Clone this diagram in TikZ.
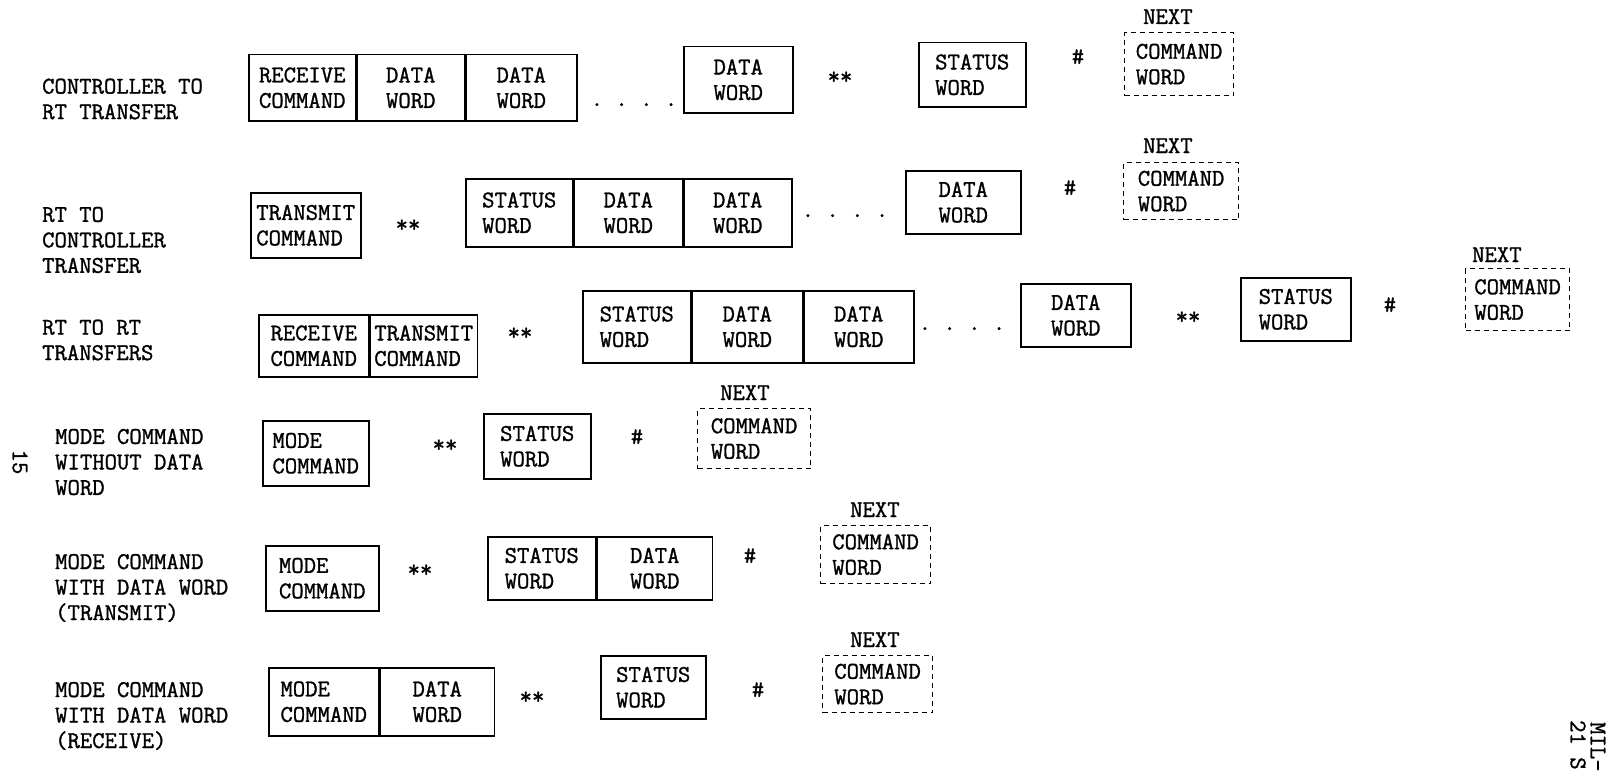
\documentclass[tikz,border=0pt]{standalone}
\usepackage{fontspec}
\newfontfamily\twfont{Latin Modern Mono}[FakeBold=1.2]
\newcommand\fs{\twfont\fontsize{24}{25.5}\selectfont\frenchspacing}
\tikzset{
  wbox/.style={draw, line width=1.5pt, font=\fs, align=left, anchor=north west, inner sep=2pt},
  nbox/.style={wbox, dash pattern=on 5pt off 4pt, line width=1.2pt},
  lbl/.style={font=\fs, align=left, anchor=west, inner sep=0pt},
  sym/.style={font=\fs, anchor=base, inner sep=0pt},
  nxt/.style={font=\fs, anchor=base west, inner sep=0pt},
}
\begin{document}
\begin{tikzpicture}[x=1pt,y=-1pt]
\useasboundingbox (0,0) rectangle (1607,776);
\clip (0,0) rectangle (1607,776);
% Row 1
\node[lbl] (l1) at (42,99) {CONTROLLER TO\\RT TRANSFER};
\node[wbox, minimum width=107, minimum height=66] (r1a) at (248,54) {RECEIVE\\COMMAND};
\node[wbox, minimum width=107, minimum height=66] (r1b) at (r1a.north east) {DATA\\WORD};
\node[wbox, minimum width=111, minimum height=66] (r1c) at (r1b.north east) {DATA\\WORD};
\node[sym] (r1d) at (634,106) {. . . .};
\node[wbox, minimum width=109, minimum height=66] (r1e) at (683,46) {DATA\\WORD};
\node[sym] (r1f) at (840,84) {**};
\node[wbox, minimum width=107, minimum height=64] (r1g) at (918,42) {STATUS\\WORD};
\node[sym] (r1h) at (1078,64) {\#};
\node[nxt] (r1i) at (1143,24) {NEXT};
\node[nbox, minimum width=109, minimum height=63] (r1j) at (1124,32) {COMMAND\\WORD};
% Row 2
\node[lbl] (l2) at (42,240) {RT TO\\CONTROLLER\\TRANSFER};
\node[wbox, minimum width=110, minimum height=65] (r2a) at (250,192) {TRANSMIT\\COMMAND};
\node[sym] (r2b) at (408,232) {**};
\node[wbox, minimum width=107, minimum height=68] (r2c) at (465,178) {STATUS\\WORD};
\node[wbox, minimum width=108, minimum height=68] (r2d) at (r2c.north east) {DATA\\WORD};
\node[wbox, minimum width=108, minimum height=68] (r2e) at (r2d.north east) {DATA\\WORD};
\node[sym] (r2f) at (845,217) {. . . .};
\node[wbox, minimum width=115, minimum height=63] (r2g) at (905,170) {DATA\\WORD};
\node[sym] (r2h) at (1070,195) {\#};
\node[nxt] (r2i) at (1143,153) {NEXT};
\node[nbox, minimum width=115, minimum height=57] (r2j) at (1123,162) {COMMAND\\WORD};
% Row 3
\node[lbl] (l3) at (42,340) {RT TO RT\\TRANSFERS};
\node[wbox, minimum width=110, minimum height=62] (r3a) at (258,314) {RECEIVE\\COMMAND};
\node[wbox, minimum width=107, minimum height=62] (r3b) at (r3a.north east) {TRANSMIT\\COMMAND};
\node[sym] (r3c) at (520,340) {**};
\node[wbox, minimum width=108, minimum height=72] (r3d) at (582,290) {STATUS\\WORD};
\node[wbox, minimum width=110, minimum height=72] (r3e) at (r3d.north east) {DATA\\WORD};
\node[wbox, minimum width=110, minimum height=72] (r3f) at (r3e.north east) {DATA\\WORD};
\node[sym] (r3g) at (962,330) {. . . .};
\node[wbox, minimum width=110, minimum height=63] (r3h) at (1020,283) {DATA\\WORD};
\node[sym] (r3i) at (1188,324) {**};
\node[wbox, minimum width=110, minimum height=63] (r3j) at (1240,277) {STATUS\\WORD};
\node[sym] (r3k) at (1390,312) {\#};
\node[nxt] (r3l) at (1472,262) {NEXT};
\node[nbox, minimum width=104, minimum height=62] (r3m) at (1465,268) {COMMAND\\WORD};
% Row 4
\node[lbl] (l4) at (55,462) {MODE COMMAND\\WITHOUT DATA\\WORD};
\node[wbox, minimum width=106, minimum height=65] (r4a) at (262,420) {MODE\\COMMAND};
\node[sym] (r4b) at (445,452) {**};
\node[wbox, minimum width=107, minimum height=65] (r4c) at (483,413) {STATUS\\WORD};
\node[sym] (r4d) at (637,444) {\#};
\node[nxt] (r4e) at (720,400) {NEXT};
\node[nbox, minimum width=113, minimum height=60] (r4f) at (697,408) {COMMAND\\WORD};
% Row 5
\node[lbl] (l5) at (55,588) {MODE COMMAND\\WITH DATA WORD\\(TRANSMIT)};
\node[wbox, minimum width=113, minimum height=65] (r5a) at (265,545) {MODE\\COMMAND};
\node[sym] (r5b) at (420,577) {**};
\node[wbox, minimum width=108, minimum height=63] (r5c) at (487,536) {STATUS\\WORD};
\node[wbox, minimum width=115, minimum height=63] (r5d) at (r5c.north east) {DATA\\WORD};
\node[sym] (r5e) at (750,563) {\#};
\node[nxt] (r5f) at (850,517) {NEXT};
\node[nbox, minimum width=110, minimum height=58] (r5g) at (820,525) {COMMAND\\WORD};
% Row 6
\node[lbl] (l6) at (55,716) {MODE COMMAND\\WITH DATA WORD\\(RECEIVE)};
\node[wbox, minimum width=110, minimum height=68] (r6a) at (268,667) {MODE\\COMMAND};
\node[wbox, minimum width=114, minimum height=68] (r6b) at (r6a.north east) {DATA\\WORD};
\node[sym] (r6c) at (532,704) {**};
\node[wbox, minimum width=105, minimum height=63] (r6d) at (600,655) {STATUS\\WORD};
\node[sym] (r6e) at (758,697) {\#};
\node[nxt] (r6f) at (850,647) {NEXT};
\node[nbox, minimum width=110, minimum height=57] (r6g) at (822,655) {COMMAND\\WORD};
% margin texts
\node[font=\fs, rotate=-90, inner sep=0pt] (pg) at (20,462) {15};
\node[font=\fs, rotate=-90, anchor=west, inner sep=0pt] (hd1) at (1598,722) {MIL-};
\node[font=\fs, rotate=-90, anchor=west, inner sep=0pt] (hd2) at (1578,720) {21 S};
\end{tikzpicture}
\end{document}
